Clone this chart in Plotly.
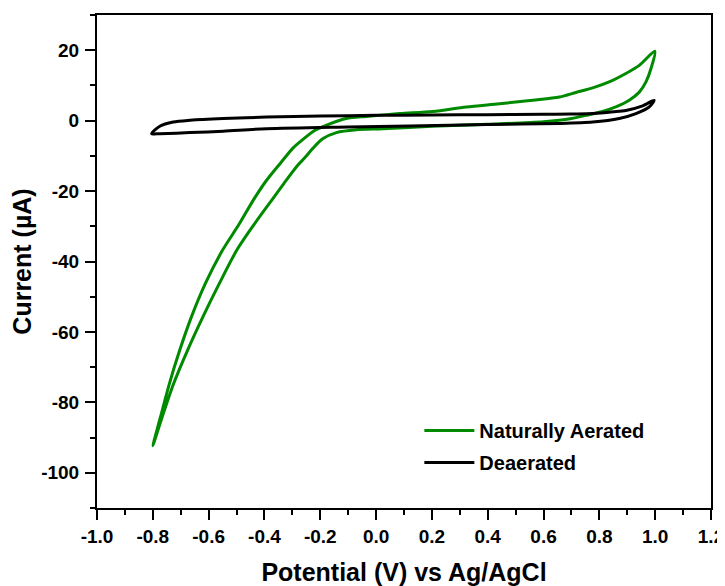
import plotly.graph_objects as go

# Naturally aerated CV loop (potential V, current µA)
aer_v = [-0.800, -0.773, -0.741, -0.704, -0.662, -0.612, -0.551, -0.490, -0.441, -0.393,
         -0.340, -0.298, -0.274, -0.220, -0.166, -0.107, -0.035, 0.084, 0.203, 0.323,
         0.442, 0.561, 0.657, 0.716, 0.776, 0.835, 0.895, 0.943, 0.999,
         0.985, 0.967, 0.943, 0.907, 0.859, 0.811, 0.752, 0.700, 0.600, 0.400,
         0.200, 0.024, -0.071, -0.142, -0.190, -0.226, -0.255, -0.280, -0.330,
         -0.375, -0.440, -0.500, -0.562, -0.621, -0.676, -0.726, -0.767, -0.800]
aer_i = [-92.3, -84.3, -74.8, -65.3, -55.8, -46.3, -36.9, -29.3, -22.7, -17.0,
         -11.8, -7.8, -6.1, -2.8, -0.9, 0.6, 1.2, 2.0, 2.6, 3.9,
         4.8, 5.8, 6.7, 8.0, 9.3, 11.0, 13.4, 15.7, 19.7,
         14.8, 11.0, 8.1, 5.8, 3.9, 2.6, 1.5, 0.6, -0.3, -1.0,
         -1.6, -2.3, -2.6, -3.4, -5.1, -7.8, -10.5, -12.6, -17.8,
         -22.7, -29.8, -36.9, -46.3, -55.8, -65.3, -74.8, -84.3, -92.3]

# Deaerated CV loop
dea_v = [-0.804, -0.775, -0.727, -0.667, -0.548, -0.393, -0.200, 0.000, 0.200, 0.400,
         0.600, 0.700, 0.776, 0.850, 0.895, 0.955, 0.996,
         0.979, 0.931, 0.871, 0.776, 0.657, 0.400, 0.120, -0.100, -0.393, -0.548,
         -0.667, -0.775, -0.804]
dea_i = [-3.7, -1.6, -0.4, 0.1, 0.6, 1.0, 1.3, 1.5, 1.6, 1.7,
         1.8, 1.9, 2.0, 2.5, 2.9, 4.2, 5.8,
         3.9, 2.0, 0.6, -0.4, -0.8, -1.1, -1.5, -1.8, -2.3, -3.0,
         -3.4, -3.7, -3.7]

x_ticks = [-1.0, -0.8, -0.6, -0.4, -0.2, 0.0, 0.2, 0.4, 0.6, 0.8, 1.0, 1.2]
x_tick_labels = ["-1.0", "-0.8", "-0.6", "-0.4", "-0.2", "0.0", "0.2", "0.4", "0.6", "0.8", "1.0", "1.2"]
y_ticks = [20, 0, -20, -40, -60, -80, -100]

FONT = "Liberation Sans, Arial, sans-serif"

fig = go.Figure()
fig.add_trace(go.Scatter(x=aer_v, y=aer_i, mode="lines", name="<b>Naturally Aerated</b>",
                         legendgroup="a",
                         line=dict(color="#008a00", width=3, shape="spline", smoothing=0.8)))
fig.add_trace(go.Scatter(x=dea_v, y=dea_i, mode="lines", name="<b>Deaerated</b>",
                         legendgroup="b",
                         line=dict(color="#000000", width=3, shape="spline", smoothing=0.8)))

axis_common = dict(showline=True, linecolor="black", linewidth=2, mirror=True,
                   ticks="outside", ticklen=10, tickwidth=2, tickcolor="black",
                   showgrid=False, zeroline=False, automargin=False)

# page body has an 8px default margin: figure is sized/offset to compensate
fig.update_layout(
    width=717, height=578,
    margin=dict(l=89, r=14, t=7, b=78),
    paper_bgcolor="white", plot_bgcolor="white",
    font=dict(family=FONT, color="black"),
    xaxis=dict(range=[-1.0, 1.2], tickvals=x_ticks, ticktext=["<b>%s</b>" % t for t in x_tick_labels],
               tickfont=dict(family=FONT, size=19, color="black"), ticklabelstandoff=0,
               minor=dict(ticks="outside", ticklen=5, tickwidth=2, tickcolor="black", dtick=0.1, tick0=-1.0),
               title=dict(text="<b>Potential (V) vs Ag/AgCl</b>", font=dict(family=FONT, size=25), standoff=20),
               **axis_common),
    yaxis=dict(range=[-110, 30], tickvals=y_ticks, ticktext=["<b>%d</b>" % t for t in y_ticks],
               tickfont=dict(family=FONT, size=19, color="black"), ticklabelstandoff=2,
               minor=dict(ticks="outside", ticklen=5, tickwidth=2, tickcolor="black", dtick=10, tick0=0),
               title=dict(text="<b>Current (µA)</b>", font=dict(family=FONT, size=25), standoff=19),
               **axis_common),
    legend=dict(x=0.525, y=0.197, xanchor="left", yanchor="top", bgcolor="rgba(0,0,0,0)",
                font=dict(family=FONT, size=20, color="black"), tracegroupgap=3, itemwidth=50),
    showlegend=True,
)

fig.write_html("out.html")
